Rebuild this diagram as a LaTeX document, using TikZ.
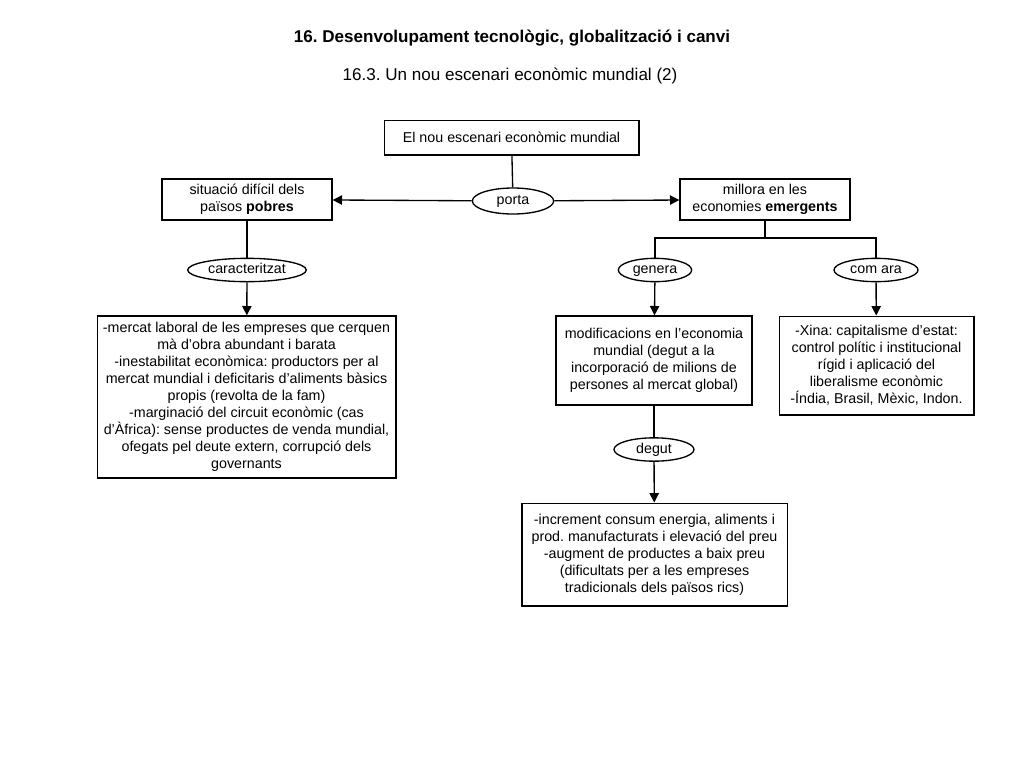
\documentclass[tikz,border=0pt]{standalone}
\usepackage{fontspec}
\setmainfont{Liberation Sans}
\usetikzlibrary{shapes.geometric, arrows.meta}
\frenchspacing

\begin{document}
\begin{tikzpicture}[
    x=0.75pt, y=-0.75pt,
    every node/.style={font=\fontsize{10.7}{12.8}\selectfont},
    concepte/.style={draw, rectangle, align=center, inner sep=2pt},
    enllac/.style={draw, ellipse, inner sep=0pt, fill=white, text height=7.8pt, text depth=2.2pt},
    fletxa/.style={-{Triangle[width=7pt,length=7pt]}},
    line width=1pt
  ]
  \useasboundingbox (0,0) rectangle (1024,768);

  % Titles
  \node[font=\fontsize{12.8}{15}\selectfont\bfseries] (titol) at (512,38)
    {16. Desenvolupament tecnològic, globalització i canvi};
  \node[font=\fontsize{12.8}{15}\selectfont] (subtitol) at (510,76)
    {16.3. Un nou escenari econòmic mundial (2)};

  % Concepts
  \node[concepte, minimum width=191pt, minimum height=26pt] (escenari) at (511.5,137.5)
    {El nou escenari econòmic mundial};
  \node[concepte, minimum width=127.5pt, minimum height=30.75pt] (pobres) at (247,199.5)
    {situació difícil dels\\països \textbf{pobres}};
  \node[concepte, minimum width=127.5pt, minimum height=30.75pt] (emergents) at (765,199.5)
    {millora en les\\economies \textbf{emergents}};
  \node[concepte, minimum width=224pt, minimum height=121.5pt] (trets) at (246.5,397)
    {-mercat laboral de les empreses que cerquen\\mà d’obra abundant i barata\\
     -inestabilitat econòmica: productors per al\\mercat mundial i deficitaris d’aliments bàsics\\
     propis (revolta de la fam)\\-marginació del circuit econòmic (cas\\
     d’Àfrica): sense productes de venda mundial,\\ofegats pel deute extern, corrupció dels\\governants};
  \node[concepte, minimum width=147pt, minimum height=66.75pt] (modificacions) at (654,360.5)
    {modificacions en l’economia\\mundial (degut a la\\incorporació de milions de\\persones al mercat global)};
  \node[concepte, minimum width=146pt, minimum height=74pt] (xina) at (876.5,365.5)
    {-Xina: capitalisme d’estat:\\control polític i institucional\\rígid i aplicació del\\liberalisme econòmic\\-Índia, Brasil, Mèxic, Indon.};
  \node[concepte, minimum width=199pt, minimum height=77pt] (consequencies) at (654.5,554.5)
    {-increment consum energia, aliments i\\prod. manufacturats i elevació del preu\\-augment de productes a baix preu\\
     (dificultats per a les empreses\\tradicionals dels països rics)};

  % Linking words
  \node[enllac, minimum width=61pt, minimum height=19.5pt] (porta) at (513,201) {porta};
  \node[enllac, minimum width=89pt, minimum height=17.5pt] (caracteritzat) at (247,270) {caracteritzat};
  \node[enllac, minimum width=55pt, minimum height=17.5pt] (genera) at (655,270) {genera};
  \node[enllac, minimum width=63pt, minimum height=17.5pt] (comara) at (876,270) {com ara};
  \node[enllac, minimum width=60pt, minimum height=17.5pt] (degut) at (654,449.5) {degut};
  \coordinate (forquilla) at (765,238);

  % Connectors
  \draw (escenari) -- (porta);
  \draw[fletxa] (porta) -- (pobres);
  \draw[fletxa] (porta) -- (emergents);
  \draw (pobres) -- (caracteritzat);
  \draw[fletxa] (caracteritzat) -- (trets);
  \draw (emergents) -- (forquilla);
  \draw (genera) |- (forquilla) -| (comara);
  \draw[fletxa] (genera) -- (modificacions);
  \draw[fletxa] (comara) -- (xina);
  \draw (modificacions) -- (degut);
  \draw[fletxa] (degut) -- (consequencies);
\end{tikzpicture}
\end{document}
